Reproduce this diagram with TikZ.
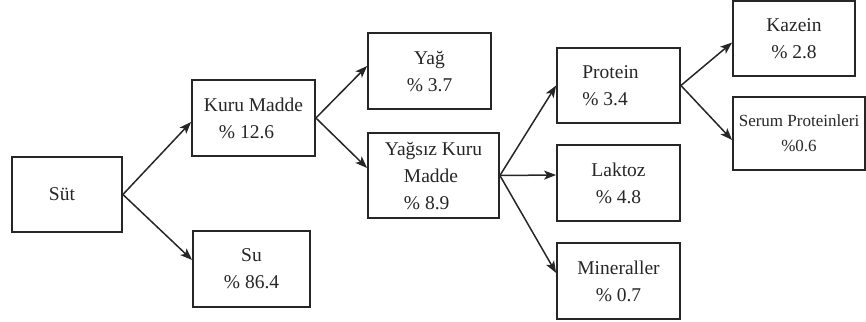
\documentclass[tikz,border=0pt]{standalone}
\usepackage{fontspec}
\setmainfont{Liberation Serif}
\usetikzlibrary{arrows.meta}
\definecolor{ink}{HTML}{262626}
\begin{document}
\begin{tikzpicture}[x=1pt,y=-1pt,
  box/.style={draw=ink, line width=1.8pt, rectangle, inner sep=0pt, text=ink,
    align=center, font=\fontsize{19.5}{27}\selectfont},
  small/.style={font=\fontsize{17}{25}\selectfont},
  arr/.style={draw=ink, line width=1.5pt, -{Stealth[length=12pt,width=9pt,inset=3pt]}}]
\useasboundingbox (0,0) rectangle (866,321);
\node[box, minimum width=110pt, minimum height=75pt] (sut) at (67,194.5) {Süt\rule{10pt}{0pt}};
\node[box, align=left, minimum width=123pt, minimum height=76pt] (kuru) at (253.5,118) {Kuru Madde\\\hspace*{15pt}\% 12.6};
\node[box, minimum width=117pt, minimum height=76pt] (su) at (251.5,269) {Su\\\% 86.4};
\node[box, minimum width=123pt, minimum height=76pt] (yag) at (429.5,71) {Yağ\\\% 3.7};
\node[box, align=left, minimum width=131pt, minimum height=85pt] (yagsiz) at (433.5,175.5) {Yağsız Kuru\\\hspace*{19pt}Madde\\\hspace*{19pt}\% 8.9};
\node[box, align=left, minimum width=123pt, minimum height=75pt] (protein) at (618.5,85.5) {Protein\rule{16pt}{0pt}\\\% 3.4};
\node[box, minimum width=123pt, minimum height=76pt] (laktoz) at (618.5,183) {Laktoz\\\% 4.8};
\node[box, minimum width=123pt, minimum height=76pt] (miner) at (618.5,281) {Mineraller\\\% 0.7};
\node[box, minimum width=122pt, minimum height=75pt] (kazein) at (794,38.5) {Kazein\\\% 2.8};
\node[box, small, minimum width=132pt, minimum height=73pt] (serum) at (799,133.5) {Serum Proteinleri\\\%0.6};
\draw[arr] (sut.east) -- ([yshift=-4pt]kuru.west);
\draw[arr] (sut.east) -- ([yshift=9pt]su.west);
\draw[arr] (kuru.east) -- ([yshift=5pt]yag.west);
\draw[arr] (kuru.east) -- ([yshift=7.5pt]yagsiz.west);
\draw[arr] (yagsiz.east) -- (protein.west);
\draw[arr] (yagsiz.east) -- ([yshift=8pt]laktoz.west);
\draw[arr] (yagsiz.east) -- ([yshift=8pt]miner.west);
\draw[arr] (protein.east) -- ([yshift=-4pt]kazein.west);
\draw[arr] (protein.east) -- ([yshift=-6.5pt]serum.west);
\end{tikzpicture}
\end{document}
